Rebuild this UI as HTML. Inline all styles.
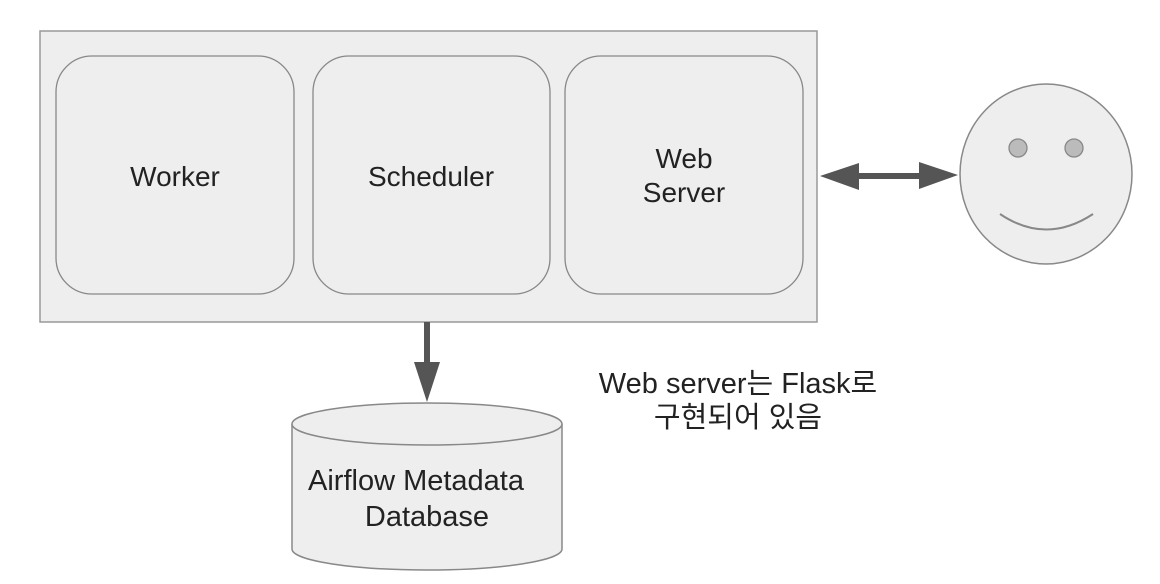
<!DOCTYPE html>
<html><head><meta charset="utf-8"><style>
html,body{margin:0;padding:0;background:#fff;}
svg{display:block;}
text{font-family:"Liberation Sans","Noto Sans CJK KR",sans-serif;fill:#222;}
</style></head><body>
<svg width="1160" height="584" viewBox="0 0 1160 584" xmlns="http://www.w3.org/2000/svg">
<rect x="40" y="31" width="777" height="291" fill="#eeeeee" stroke="#999" stroke-width="1.5"/>
<rect x="56" y="56" width="238" height="238" rx="36" fill="#eeeeee" stroke="#888" stroke-width="1.3"/>
<rect x="313" y="56" width="237" height="238" rx="36" fill="#eeeeee" stroke="#888" stroke-width="1.3"/>
<rect x="565" y="56" width="238" height="238" rx="36" fill="#eeeeee" stroke="#888" stroke-width="1.3"/>
<text x="175" y="186" font-size="28" text-anchor="middle">Worker</text>
<text x="431" y="186" font-size="28" text-anchor="middle">Scheduler</text>
<text x="684" y="168" font-size="28" text-anchor="middle">Web</text>
<text x="684" y="202" font-size="28" text-anchor="middle">Server</text>
<!-- double arrow -->
<line x1="855" y1="176" x2="922" y2="176" stroke="#555" stroke-width="6"/>
<polygon points="820,176 859,163 859,190" fill="#555"/>
<polygon points="958,175 919,162 919,189" fill="#555"/>
<!-- face -->
<ellipse cx="1046" cy="174" rx="86" ry="90" fill="#eeeeee" stroke="#888" stroke-width="1.5"/>
<circle cx="1018" cy="148" r="9" fill="#bbb" stroke="#888" stroke-width="1.3"/>
<circle cx="1074" cy="148" r="9" fill="#bbb" stroke="#888" stroke-width="1.3"/>
<path d="M1000,214 Q1046,245 1093,214" fill="none" stroke="#888" stroke-width="2"/>
<!-- down arrow -->
<line x1="427" y1="322" x2="427" y2="366" stroke="#555" stroke-width="6"/>
<polygon points="427,402 414,362 440,362" fill="#555"/>
<!-- cylinder -->
<path d="M292,424 L292,549 A135,21 0 0 0 562,549 L562,424" fill="#eeeeee" stroke="#888" stroke-width="1.5"/>
<ellipse cx="427" cy="424" rx="135" ry="21" fill="#eeeeee" stroke="#888" stroke-width="1.5"/>
<text x="416" y="490" font-size="29" text-anchor="middle">Airflow Metadata</text>
<text x="427" y="526" font-size="29" text-anchor="middle">Database</text>
<text x="738" y="393" font-size="29" text-anchor="middle">Web server는 Flask로</text>
<text x="738" y="427" font-size="29" text-anchor="middle">구현되어 있음</text>
</svg>
</body></html>
